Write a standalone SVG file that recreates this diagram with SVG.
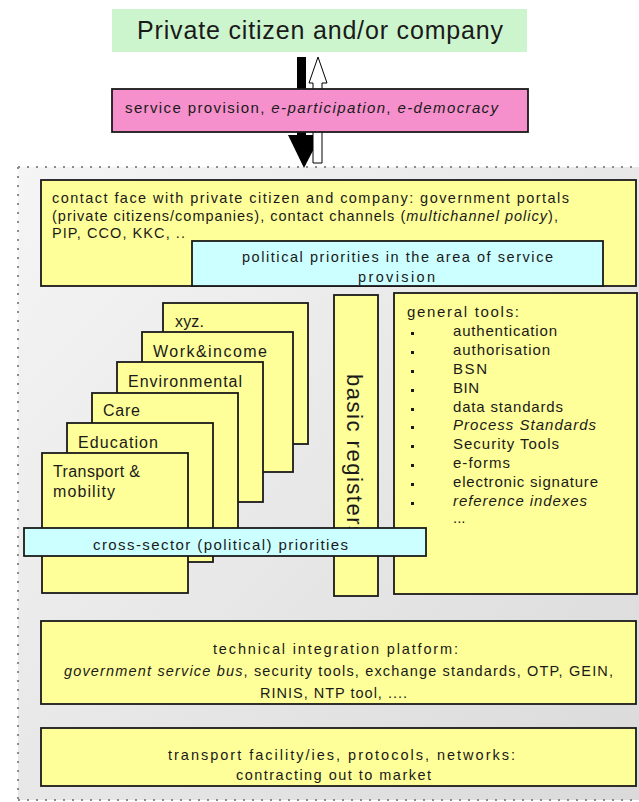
<svg xmlns="http://www.w3.org/2000/svg" width="639" height="802" viewBox="0 0 639 802">
<defs>
<linearGradient id="bg" x1="0" y1="0" x2="1" y2="1">
<stop offset="0" stop-color="#f5f5f5"/>
<stop offset="1" stop-color="#dadada"/>
</linearGradient>
<style>
.t{font-family:"Liberation Sans",Arial,sans-serif;fill:#1a1a1a}
.y{fill:#ffff99;stroke:#1a1a1a;stroke-width:1.8}
.c{fill:#ccffff;stroke:#1a1a1a;stroke-width:1.8}
.dot{stroke:#8c8c8c;stroke-width:2;stroke-dasharray:2 7;fill:none}
.i{font-style:italic}
</style>
</defs>
<rect x="0" y="0" width="639" height="802" fill="#ffffff"/>
<rect x="18" y="167" width="621" height="633" fill="url(#bg)"/>
<path class="dot" d="M18 167H639M18 167V800M18 800H639"/>

<g id="connectors">
<rect x="297" y="57" width="9" height="80" fill="#000"/>
<polygon points="288,135 321,135 304,168" fill="#000"/>
<polygon points="318,57 327,83 322,83 322,163 313,163 313,83 309,83" fill="#fff" stroke="#000" stroke-width="1"/>
</g>

<g id="citizen">
<rect x="112" y="9" width="415" height="43" fill="#cdf5cd"/>
<text class="t" x="137" y="39" font-size="25" textLength="366" lengthAdjust="spacing">Private citizen and/or company</text>
</g>

<g id="service">
<rect x="112" y="89" width="416" height="43" fill="#f590cc" stroke="#1a1a1a" stroke-width="1.8"/>
<text class="t" x="125" y="113" font-size="15" textLength="373" lengthAdjust="spacing">service provision, <tspan class="i">e-participation</tspan>, <tspan class="i">e-democracy</tspan></text>
</g>

<g id="contact">
<rect class="y" x="41" y="180" width="595" height="106"/>
<text class="t" x="52" y="203" font-size="14.5" textLength="517" lengthAdjust="spacing">contact face with private citizen and company: government portals</text>
<text class="t" x="52" y="221" font-size="14.5" textLength="506" lengthAdjust="spacing">(private citizens/companies), contact channels (<tspan class="i">multichannel policy</tspan>),</text>
<text class="t" x="52" y="238" font-size="14.5" textLength="133" lengthAdjust="spacing">PIP, CCO, KKC, ..</text>
</g>

<g id="political">
<rect class="c" x="192" y="241" width="411" height="45"/>
<text class="t" x="242" y="262" font-size="14.5" textLength="311" lengthAdjust="spacing">political priorities in the area of service</text>
<text class="t" x="358" y="282" font-size="14.5" textLength="77" lengthAdjust="spacing">provision</text>
</g>

<g id="xyz">
<rect class="y" x="163" y="303" width="145" height="141"/>
<text class="t" x="175" y="327" font-size="16" textLength="29" lengthAdjust="spacing">xyz.</text>
</g>
<g id="work">
<rect class="y" x="142" y="332" width="151" height="140"/>
<text class="t" x="153" y="357" font-size="16" textLength="114" lengthAdjust="spacing">Work&amp;income</text>
</g>
<g id="environmental">
<rect class="y" x="117" y="362" width="146" height="140"/>
<text class="t" x="128" y="387" font-size="16" textLength="114" lengthAdjust="spacing">Environmental</text>
</g>
<g id="care">
<rect class="y" x="92" y="393" width="146" height="140"/>
<text class="t" x="103" y="416" font-size="16" textLength="37" lengthAdjust="spacing">Care</text>
</g>
<g id="education">
<rect class="y" x="67" y="423" width="146" height="139"/>
<text class="t" x="78" y="448" font-size="16" textLength="80" lengthAdjust="spacing">Education</text>
</g>
<g id="transport-mobility">
<rect class="y" x="42" y="453" width="146" height="140"/>
<text class="t" x="53" y="477" font-size="16" textLength="87" lengthAdjust="spacing">Transport &amp;</text>
<text class="t" x="53" y="497" font-size="16" textLength="62" lengthAdjust="spacing">mobility</text>
</g>

<g id="basic-registers">
<rect class="y" x="334" y="295" width="44" height="301"/>
<text class="t" transform="translate(347,374) rotate(90)" font-size="22" textLength="163" lengthAdjust="spacing">basic registers</text>
</g>

<g id="general-tools">
<rect class="y" x="394" y="293" width="243" height="301"/>
<text class="t" x="407" y="317" font-size="15" textLength="112" lengthAdjust="spacing">general tools:</text>
<g fill="#1a1a1a">
<rect x="411" y="332" width="3" height="3"/>
<rect x="411" y="351" width="3" height="3"/>
<rect x="411" y="370" width="3" height="3"/>
<rect x="411" y="389" width="3" height="3"/>
<rect x="411" y="408" width="3" height="3"/>
<rect x="411" y="426" width="3" height="3"/>
<rect x="411" y="445" width="3" height="3"/>
<rect x="411" y="464" width="3" height="3"/>
<rect x="411" y="483" width="3" height="3"/>
<rect x="411" y="502" width="3" height="3"/>
</g>
<text class="t" x="453" y="336" font-size="15" textLength="104" lengthAdjust="spacing">authentication</text>
<text class="t" x="453" y="355" font-size="15" textLength="97" lengthAdjust="spacing">authorisation</text>
<text class="t" x="453" y="374" font-size="15" textLength="34" lengthAdjust="spacing">BSN</text>
<text class="t" x="453" y="393" font-size="15" textLength="26" lengthAdjust="spacing">BIN</text>
<text class="t" x="453" y="412" font-size="15" textLength="110" lengthAdjust="spacing">data standards</text>
<text class="t i" x="453" y="430" font-size="15" textLength="143" lengthAdjust="spacing">Process Standards</text>
<text class="t" x="453" y="449" font-size="15" textLength="106" lengthAdjust="spacing">Security Tools</text>
<text class="t" x="453" y="468" font-size="15" textLength="57" lengthAdjust="spacing">e-forms</text>
<text class="t" x="453" y="487" font-size="15" textLength="145" lengthAdjust="spacing">electronic signature</text>
<text class="t i" x="453" y="506" font-size="15" textLength="134" lengthAdjust="spacing">reference indexes</text>
<text class="t" x="453" y="523" font-size="15">...</text>
</g>

<g id="cross-sector">
<rect class="c" x="24" y="528" width="402" height="28"/>
<text class="t" x="93" y="550" font-size="15" textLength="255" lengthAdjust="spacing">cross-sector (political) priorities</text>
</g>

<g id="technical-platform">
<rect class="y" x="41" y="621" width="595" height="83"/>
<text class="t" x="213" y="654" font-size="14.5" textLength="245" lengthAdjust="spacing">technical integration platform:</text>
<text class="t" x="64" y="676" font-size="14.5" textLength="549" lengthAdjust="spacing"><tspan class="i">government service bus</tspan>, security tools, exchange standards, OTP, GEIN,</text>
<text class="t" x="260" y="698" font-size="14.5" textLength="147" lengthAdjust="spacing">RINIS, NTP tool, ....</text>
</g>

<g id="transport-facilities">
<rect class="y" x="41" y="728" width="595" height="58"/>
<text class="t" x="168" y="760" font-size="14.5" textLength="347" lengthAdjust="spacing">transport facility/ies, protocols, networks:</text>
<text class="t" x="236" y="780" font-size="14.5" textLength="195" lengthAdjust="spacing">contracting out to market</text>
</g>
</svg>
